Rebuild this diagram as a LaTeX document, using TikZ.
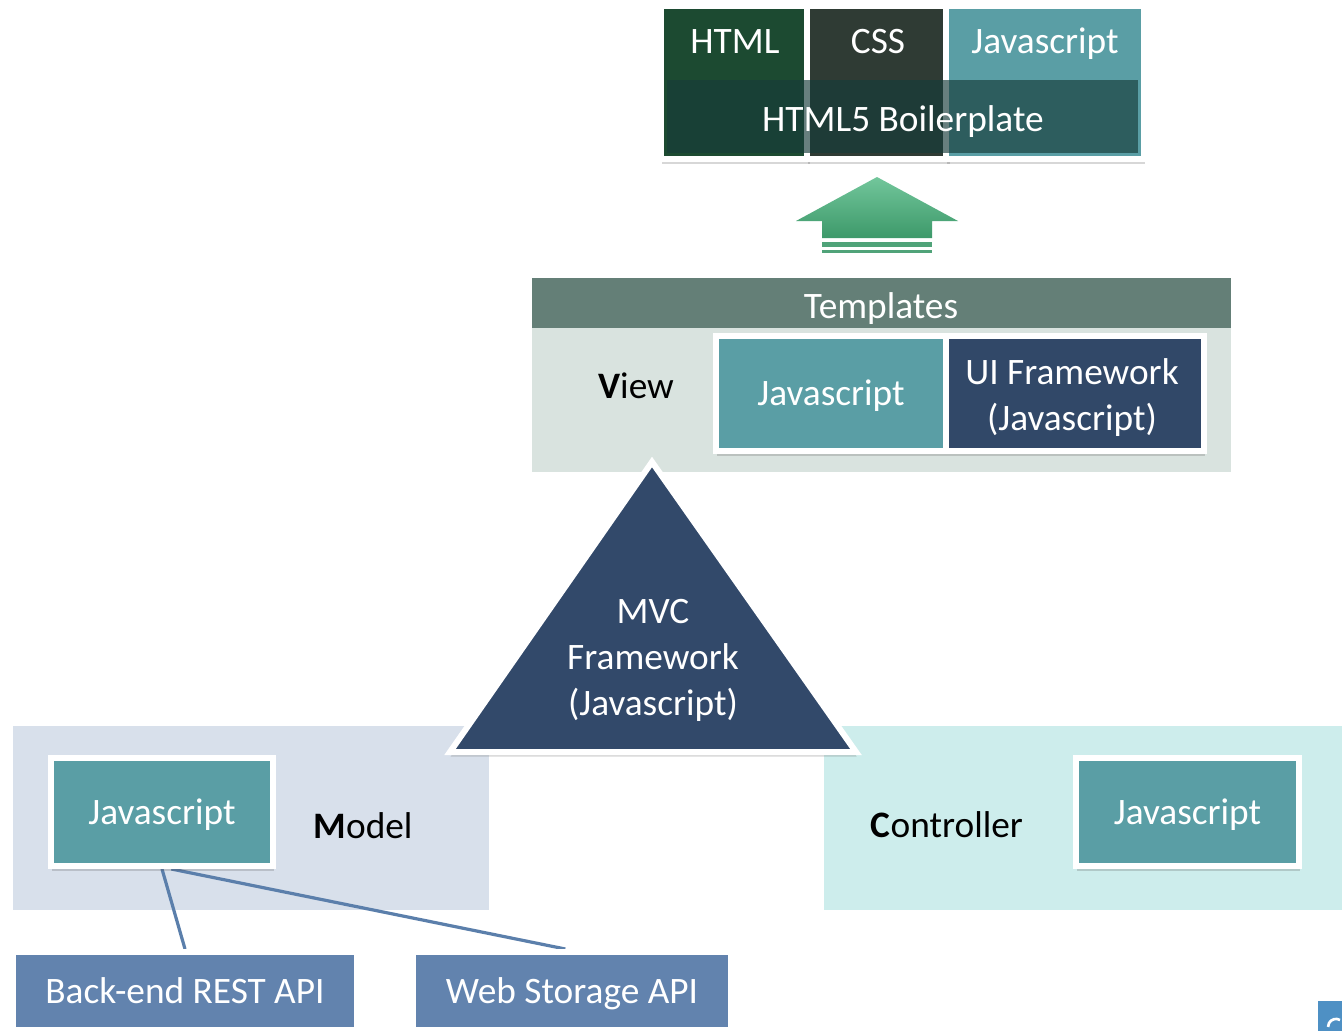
\documentclass[tikz,border=0pt]{standalone}
\usepackage{fontspec}
\setmainfont{Carlito}
\usetikzlibrary{shadows}
\definecolor{cTeal}{HTML}{5A9EA5}
\definecolor{cNavy}{HTML}{32496A}
\definecolor{cApi}{HTML}{6283AE}
\definecolor{cModel}{HTML}{D8E0EB}
\definecolor{cCtrl}{HTML}{CDEDEC}
\definecolor{cView}{HTML}{D9E3DF}
\definecolor{cTpl}{HTML}{647F77}
\definecolor{cHtml}{HTML}{1C4A31}
\definecolor{cCss}{HTML}{2F3B34}
\definecolor{cBand}{HTML}{163B39}
\definecolor{cLine}{HTML}{5B7FAB}
\definecolor{cArrTop}{HTML}{72C69B}
\definecolor{cArrBot}{HTML}{3D996A}
\definecolor{cLogo}{HTML}{4E90C4}
\newcommand\pxl[1]{#1*0.75pt}
\pgfdeclarelayer{panels}
\pgfdeclarelayer{links}
\pgfsetlayers{panels,links,main}
\begin{document}
\begin{tikzpicture}[x=0.75pt,y=-0.75pt,
  txt/.style={font=\fontsize{28}{34.5}\selectfont, inner sep=0pt},
  lbl/.style={txt, text height=18pt, text depth=0pt},
  wlbl/.style={lbl, text=white},
  mlbl/.style={txt, text=white, align=center},
  shd/.style={drop shadow={shadow xshift=0.5pt, shadow yshift=-3.4pt, opacity=0.22, fill=black!70}},
  box/.style={draw=white, line width=4.5pt, inner sep=0pt, txt, text=white,
    text height=18pt, text depth=0pt, shd},
  link/.style={draw=cLine, line width=2.4pt}
]
\useasboundingbox (0,0) rectangle (1342,1031);

% panels
\begin{pgfonlayer}{panels}
\fill[white] (0,0) rectangle (1342,1031);
\fill[cView] (532,278) rectangle (1231,472);
\fill[cTpl] (532,278) rectangle (1231,328);
\fill[cModel] (13,726) rectangle (489,910);
\fill[cCtrl] (824,726) rectangle (1342,910);
\end{pgfonlayer}

% top stack
\node[box, fill=cHtml, minimum width={\pxl{148}}, minimum height={\pxl{153}}] (html) at (735,82.5) {};
\node[box, fill=cCss, minimum width={\pxl{142}}, minimum height={\pxl{153}}] (css) at (878,82.5) {};
\node[box, fill=cTeal, minimum width={\pxl{198}}, minimum height={\pxl{153}}] (jstop) at (1045,82.5) {};
\fill[cBand, opacity=0.65] (667,80) rectangle (1138,153);
\node[wlbl] (htmll) at (735,42) {HTML};
\node[wlbl] (cssl) at (878,42) {CSS};
\node[wlbl] (jstopl) at (1045,42) {Javascript};
\node[wlbl] (boiler) at (903,120) {HTML5 Boilerplate};

% green arrow
\shade[top color=cArrTop, bottom color=cArrBot]
  (877,177) -- (958,221) -- (932,221) -- (932,238) -- (822,238) -- (822,221) -- (796,221) -- cycle;
\fill[cArrBot!90!white] (822,241.5) rectangle (932,246.5);
\fill[cArrBot!90!white] (822,249.5) rectangle (932,253);

% view
\node[wlbl] (tpl) at (881,306) {Templates};
\node[lbl] (view) at (636,386) {{\bfseries V}iew};
\node[box, fill=cTeal, minimum width={\pxl{230}}, minimum height={\pxl{115}}] (vjs) at (831,393.5) {Javascript};
\node[box, fill=cNavy!98!black, minimum width={\pxl{258}}, minimum height={\pxl{115}}] (ui) at (1075,393.5) {};
\node[mlbl] (uil) at (1072,398) {UI Framework\\(Javascript)};

% triangle
\draw[fill=cNavy, draw=white, line width=4.5pt, line join=miter, shd]
  (652,462) -- (856,752) -- (450,752) -- cycle;
\node[mlbl] (mvc) at (653,660) {MVC\\Framework\\(Javascript)};

% model
\node[box, fill=cTeal, minimum width={\pxl{222}}, minimum height={\pxl{108}}] (mjs) at (162,812) {Javascript};
\node[lbl] (model) at (363,826) {{\bfseries M}odel};

% controller
\node[box, fill=cTeal, minimum width={\pxl{223}}, minimum height={\pxl{108}}] (cjs) at (1187.5,812) {Javascript};
\node[lbl] (ctrl) at (947,825) {{\bfseries C}ontroller};

% APIs
\node[box, fill=cApi, minimum width={\pxl{344}}, minimum height={\pxl{78}}] (rest) at (185,991) {Back-end REST API};
\node[box, fill=cApi, minimum width={\pxl{318}}, minimum height={\pxl{78}}] (web) at (572,991) {Web Storage API};

\begin{pgfonlayer}{links}
\draw[link] (mjs.south) -- (rest.north);
\draw[link] ([xshift=7pt]mjs.south) -- ([xshift=-5pt]web.north);
\end{pgfonlayer}

% corner logo fragment
\fill[cLogo] (1318,1001) rectangle (1342,1031);
\draw[white, line width=2pt] (1340,1020) arc[start angle=-60, end angle=-180, radius=8];
\end{tikzpicture}
\end{document}
